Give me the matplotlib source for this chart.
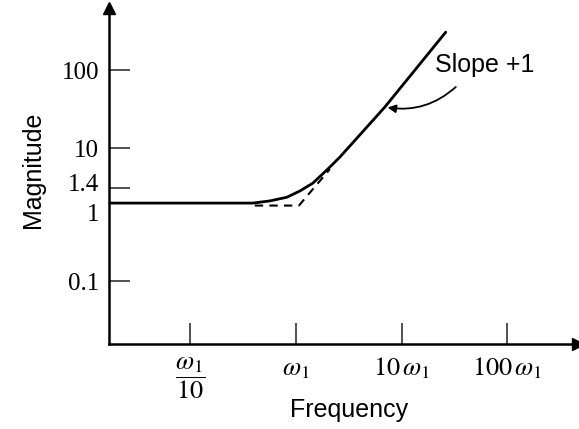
import numpy as np
import matplotlib
matplotlib.use('Agg')
import matplotlib.pyplot as plt
from matplotlib.ticker import NullLocator
from matplotlib.transforms import ScaledTranslation

plt.rcParams['mathtext.fontset'] = 'stix'

# frequency in units of omega_1, magnitude
freq_ratio = [0.017, 0.392, 0.568, 0.822, 1.09, 1.45, 1.96, 2.61, 6.95, 26.2]
magnitude = [1.0, 1.0, 1.05, 1.14, 1.31, 1.79, 3.39, 6.43, 33.6, 305.0]

# straight-line asymptote (dashed), only visible around the corner
asym_freq = [0.409, 1.07, 2.10]
asym_mag = [0.93, 0.93, 3.56]

x_ticks = [0.1, 1, 10, 100]
x_labels = [r'$\dfrac{\omega_1}{10}$', r'$\omega_1$', r'$10\,\omega_1$', r'$100\,\omega_1$']
y_ticks = [0.1, 1, 1.4, 10, 100]
y_labels = ['0.1', '1', '1.4', '10', '100']

# the printed figure is a sketch: decades on the magnitude axis are not evenly spaced
scale_logs = np.array([-1.82, -1.0, 0.0, 0.146, 1.0, 2.0, 2.79])
scale_pos = np.array([0.0, 63.0, 141.0, 156.0, 196.0, 274.0, 336.0])

def fwd(v):
    v = np.clip(np.asarray(v, dtype=float), 1e-6, None)
    return np.interp(np.log10(v), scale_logs, scale_pos)

def inv(h):
    return 10 ** np.interp(np.asarray(h, dtype=float), scale_pos, scale_logs)

fig = plt.figure(figsize=(5.79, 4.29), dpi=100)
ax = fig.add_axes([0.188, 0.198, 0.810, 0.783])

ax.plot(freq_ratio, magnitude, color='black', linewidth=2.0, solid_capstyle='round')
ax.plot(asym_freq, asym_mag, color='black', linewidth=1.5, linestyle=(0, (4, 3)))

ax.set_xscale('log')
ax.set_yscale('function', functions=(fwd, inv))
ax.set_xlim(10 ** -1.769, 10 ** 2.668)
ax.set_ylim(10 ** -1.82, 10 ** 2.79)

ax.set_xticks(x_ticks)
ax.set_xticklabels(x_labels, fontsize=19)
ax.set_yticks(y_ticks)
ax.set_yticklabels(y_labels, fontsize=18, family='Liberation Serif')
ax.xaxis.set_minor_locator(NullLocator())
ax.yaxis.set_minor_locator(NullLocator())
ax.tick_params(axis='both', direction='in', length=15, width=1.2, color='#333333')
ax.tick_params(axis='x', pad=8)
ax.tick_params(axis='y', pad=7)

# "1" and "1.4" sit close together, nudge them apart like the printed figure
for lab in ax.get_yticklabels():
    if lab.get_text() == '1':
        lab.set_transform(lab.get_transform() + ScaledTranslation(0, -7 / 72, fig.dpi_scale_trans))
    elif lab.get_text() == '1.4':
        lab.set_transform(lab.get_transform() + ScaledTranslation(0, 4 / 72, fig.dpi_scale_trans))

for s in ['top', 'right']:
    ax.spines[s].set_visible(False)
for s in ['left', 'bottom']:
    ax.spines[s].set_linewidth(1.8)

# arrow heads on the axes
ax.plot(1, 0, marker='>', color='black', markersize=8, transform=ax.transAxes, clip_on=False)
ax.plot(0, 1, marker='^', color='black', markersize=8, transform=ax.transAxes, clip_on=False)

ax.set_xlabel('Frequency', fontsize=18, family='Liberation Sans')
ax.set_ylabel('Magnitude', fontsize=18, family='Liberation Sans')
ax.xaxis.set_label_coords(0.512, -0.16)
ax.yaxis.set_label_coords(-0.137, 0.52)

ax.text(61.4, 116, 'Slope +1', fontsize=18, family='Liberation Sans', ha='center', va='center')
ax.annotate('', xy=(6.95, 33.6), xytext=(34.1, 64.3),
            arrowprops=dict(arrowstyle='-|>', color='black', lw=1.3,
                            mutation_scale=12, connectionstyle='arc3,rad=-0.25'))

plt.savefig('out.png', dpi=100)
